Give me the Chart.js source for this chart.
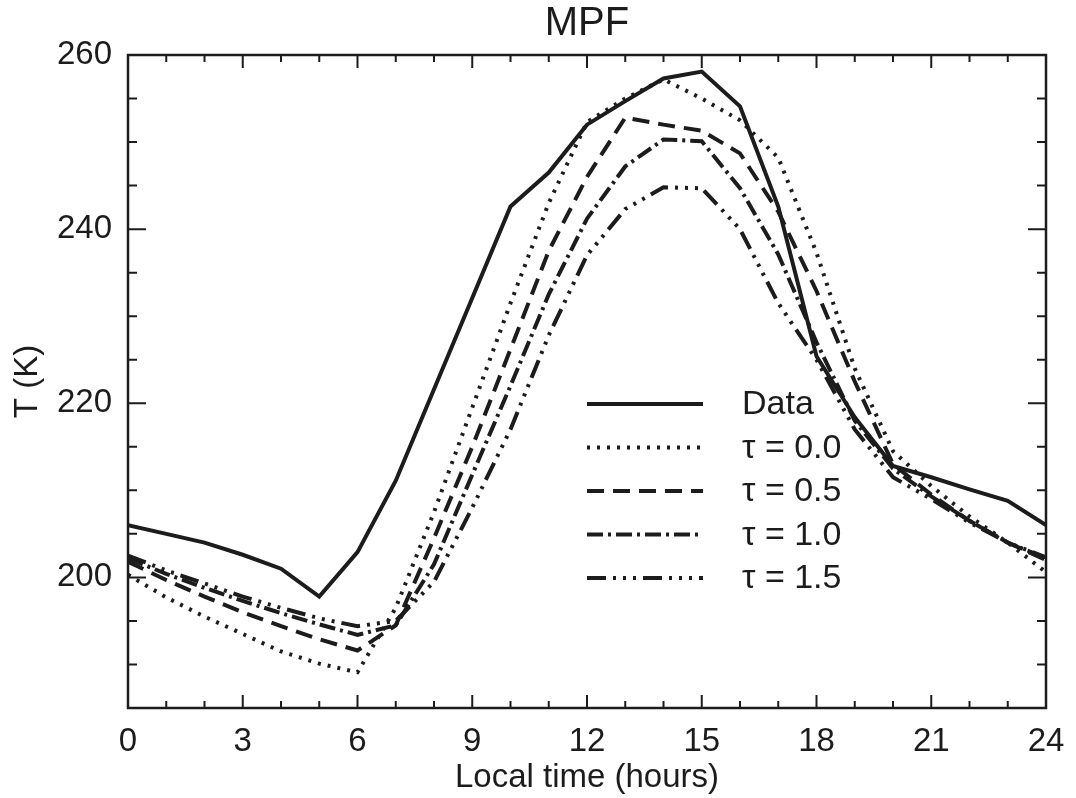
<!DOCTYPE html>
<html lang="en">
<head>
    <meta charset="UTF-8">
    <title>MPF</title>
    <script src="https://cdn.jsdelivr.net/npm/chart.js"></script>
    <style>
        body { margin: 0; background: #fff; }
    </style>
</head>
<body>
<canvas id="mpfChart" width="1076" height="798"></canvas>

<script>
    // local time (hours)
    const hours = [0, 1, 2, 3, 4, 5, 6, 7, 8, 9, 10, 11, 12, 13, 14, 15, 16, 17, 18, 19, 20, 21, 22, 23, 24];

    // surface temperature T (K)
    const dataT = [206, 205, 204, 202.6, 201, 197.8, 202.9, 211.1, 221.6, 232.1, 242.6, 246.5, 252, 254.7, 257.3, 258.1, 254.1, 242.6, 225.4, 218.4, 212.8, 211.5, 210.1, 208.8, 206];
    const tau00 = [200.3, 197.7, 195.5, 193.5, 191.5, 190.1, 189.1, 196.5, 207.5, 219.5, 231.5, 243, 252.3, 255, 257.2, 255, 252.5, 248.2, 237.3, 224, 214.5, 210.5, 207, 204, 200.6];
    const tau05 = [201.8, 199.7, 197.8, 196, 194.4, 192.9, 191.6, 194.5, 204.5, 215, 226.2, 237.5, 246, 252.8, 252, 251.3, 248.7, 242, 232.9, 222.5, 213, 209.5, 206.5, 204, 202];
    const tau10 = [202.2, 200.4, 198.8, 197.3, 195.9, 194.6, 193.4, 194.5, 201.5, 211.8, 222, 232.5, 241.2, 247.2, 250.3, 250.1, 244.7, 237.1, 227, 218, 212.5, 209.3, 206.5, 204, 202.2];
    const tau15 = [202.5, 200.8, 199.3, 197.8, 196.5, 195.3, 194.4, 195, 199.5, 208, 217, 227.8, 237, 242.3, 244.8, 244.7, 240, 231.5, 225, 217, 211.5, 209, 206.3, 204, 202.3];

    const seriesLabels = ['Data', 'τ = 0.0', 'τ = 0.5', 'τ = 1.0', 'τ = 1.5'];

    // axis ticks
    const xLabelTicks = [0, 3, 6, 9, 12, 15, 18, 21, 24];
    const yLabelTicks = [200, 220, 240, 260];

    const ink = '#1c1c1c';
    const fontFamily = '"Liberation Sans", Arial, Helvetica, sans-serif';

    function pts(vals) {
        return hours.map((h, i) => ({x: h, y: vals[i]}));
    }

    function ds(label, vals, dash) {
        return {
            label: label,
            data: pts(vals),
            borderColor: ink,
            borderWidth: 4,
            borderDash: dash,
            borderCapStyle: 'butt',
            pointRadius: 0,
            tension: 0,
            fill: false
        };
    }

    // inward tick marks on all four sides + frame
    const frameTicks = {
        id: 'frameTicks',
        afterDatasetsDraw(chart) {
            const {ctx, chartArea: a, scales: {x, y}} = chart;
            ctx.save();
            ctx.strokeStyle = ink;
            ctx.setLineDash([]);
            ctx.lineWidth = 2;
            ctx.beginPath();
            for (let h = x.min; h <= x.max; h += 1) {
                const px = x.getPixelForValue(h);
                const len = h % 3 === 0 ? 13 : 7;
                ctx.moveTo(px, a.bottom); ctx.lineTo(px, a.bottom - len);
                ctx.moveTo(px, a.top); ctx.lineTo(px, a.top + len);
            }
            for (let t = y.min; t <= y.max; t += 5) {
                const py = y.getPixelForValue(t);
                const len = t % 20 === 0 ? 18 : 9;
                ctx.moveTo(a.left, py); ctx.lineTo(a.left + len, py);
                ctx.moveTo(a.right, py); ctx.lineTo(a.right - len, py);
            }
            ctx.stroke();
            ctx.lineWidth = 2.5;
            ctx.strokeRect(a.left, a.top, a.right - a.left, a.bottom - a.top);
            ctx.restore();
        }
    };

    // legend inside the plot + title over plot area
    const innerLegend = {
        id: 'innerLegend',
        afterDraw(chart) {
            const {ctx, chartArea: a} = chart;
            ctx.save();
            ctx.fillStyle = ink;
            ctx.font = '40px ' + fontFamily;
            ctx.textAlign = 'center';
            ctx.textBaseline = 'middle';
            ctx.fillText('MPF', (a.left + a.right) / 2, 24);

            ctx.font = '34px ' + fontFamily;
            ctx.textAlign = 'left';
            chart.data.datasets.forEach((d, i) => {
                const yy = 404 + i * 43.5;
                ctx.strokeStyle = d.borderColor;
                ctx.lineWidth = d.borderWidth;
                ctx.setLineDash(d.borderDash || []);
                ctx.lineCap = 'butt';
                ctx.beginPath();
                ctx.moveTo(587, yy);
                ctx.lineTo(703, yy);
                ctx.stroke();
                ctx.fillText(d.label, 742, yy + 1);
            });
            ctx.restore();
        }
    };

    const ctx = document.getElementById('mpfChart').getContext('2d');

    const mpfChart = new Chart(ctx, {
        type: 'line',
        data: {
            datasets: [
                ds(seriesLabels[0], dataT, []),
                ds(seriesLabels[1], tau00, [3, 7]),
                ds(seriesLabels[2], tau05, [17, 9]),
                ds(seriesLabels[3], tau10, [16, 5, 3, 5]),
                ds(seriesLabels[4], tau15, [19, 7, 3, 7, 3, 7, 3, 7])
            ]
        },
        options: {
            responsive: false,
            devicePixelRatio: 1,
            animation: false,
            layout: {
                padding: {top: 55, right: 30, left: 0, bottom: 0}
            },
            plugins: {
                legend: {display: false},
                tooltip: {enabled: false}
            },
            scales: {
                x: {
                    type: 'linear',
                    min: 0,
                    max: 24,
                    afterBuildTicks: (scale) => {
                        scale.ticks = xLabelTicks.map(v => ({value: v}));
                    },
                    afterFit: (scale) => { scale.height = 90; },
                    grid: {display: false},
                    border: {display: false},
                    ticks: {
                        color: ink,
                        font: {family: fontFamily, size: 33},
                        padding: 6,
                        maxRotation: 0,
                        autoSkip: false
                    },
                    title: {
                        display: true,
                        text: 'Local time (hours)',
                        color: ink,
                        font: {family: fontFamily, size: 33},
                        padding: {top: 0, bottom: 0}
                    }
                },
                y: {
                    type: 'linear',
                    min: 185,
                    max: 260,
                    afterBuildTicks: (scale) => {
                        scale.ticks = yLabelTicks.map(v => ({value: v}));
                    },
                    afterFit: (scale) => { scale.width = 128; },
                    grid: {display: false},
                    border: {display: false},
                    ticks: {
                        color: ink,
                        font: {family: fontFamily, size: 33},
                        padding: 8
                    },
                    title: {
                        display: true,
                        text: 'T (K)',
                        color: ink,
                        font: {family: fontFamily, size: 33},
                        padding: {top: 8, bottom: 0}
                    }
                }
            }
        },
        plugins: [frameTicks, innerLegend]
    });
</script>
</body>
</html>
